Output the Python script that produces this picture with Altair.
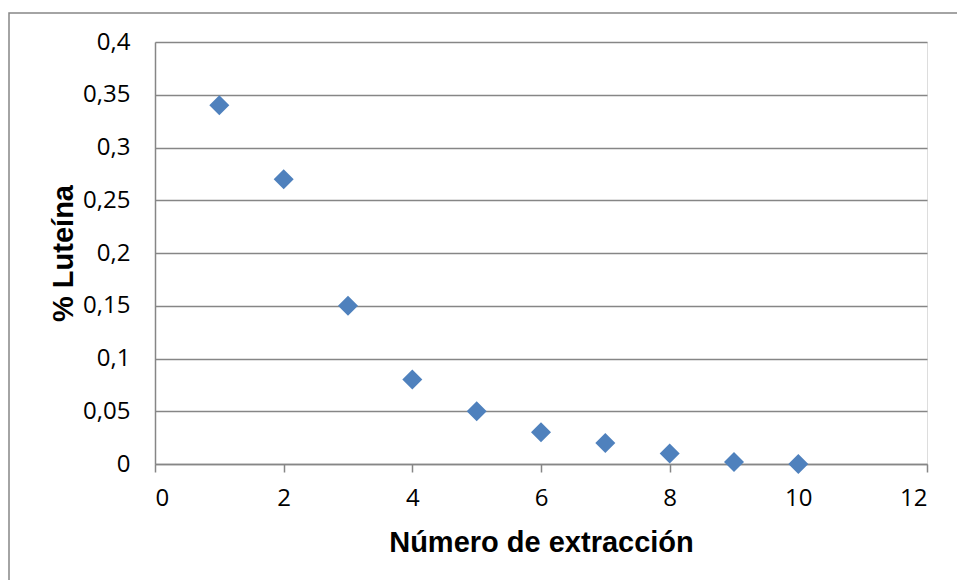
import altair as alt
import pandas as pd

extraccion = [1, 2, 3, 4, 5, 6, 7, 8, 9, 10]
luteina = [0.34, 0.27, 0.15, 0.08, 0.05, 0.03, 0.02, 0.01, 0.002, 0.0]
x_ticks = [0, 2, 4, 6, 8, 10, 12]
y_ticks = [0, 0.05, 0.1, 0.15, 0.2, 0.25, 0.3, 0.35, 0.4]

df = pd.DataFrame({"x": extraccion, "y": luteina})

GRAY = "#868686"
LABEL_FONT = "Open Sans"
TITLE_FONT = "Liberation Sans"

points = alt.Chart(df).mark_point(
    shape="diamond", filled=True, size=400, color="#4F81BD", opacity=1
).encode(
    x=alt.X(
        "x:Q",
        scale=alt.Scale(domain=[0, 12], nice=False, zero=True),
        axis=alt.Axis(
            values=x_ticks,
            title="Número de extracción",
            grid=False,
            domainColor=GRAY,
            domainWidth=1.5,
            tickColor=GRAY,
            tickWidth=1.5,
            tickSize=8,
            labelFont=LABEL_FONT,
            labelFontSize=24,
            labelColor="black",
            labelPadding=14,
            titleFont=TITLE_FONT,
            titleFontSize=29,
            titleFontWeight="bold",
            titleColor="black",
            titlePadding=18,
        ),
    ),
    y=alt.Y(
        "y:Q",
        scale=alt.Scale(domain=[0, 0.4], nice=False),
        axis=alt.Axis(
            values=y_ticks,
            format=".2~f",
            title="% Luteína",
            grid=True,
            gridColor=GRAY,
            gridWidth=1.5,
            domainColor=GRAY,
            domainWidth=1.5,
            ticks=False,
            labelExpr="replace(datum.label, '.', ',')",
            labelFont=LABEL_FONT,
            labelFontSize=24,
            labelColor="black",
            labelPadding=25,
            titleFont=TITLE_FONT,
            titleFontSize=29,
            titleFontWeight="bold",
            titleColor="black",
            titlePadding=4,
        ),
    ),
)

border = alt.Chart(pd.DataFrame({"a": [0]})).mark_rect(
    fill=None, stroke=GRAY, strokeWidth=1.5, clip=False
).encode(
    x=alt.value(-146),
    x2=alt.value(830),
    y=alt.value(-29),
    y2=alt.value(600),
)

chart = alt.layer(border, points).properties(
    width=772,
    height=422,
    autosize=alt.AutoSizeParams(type="none"),
    padding={"left": 155, "top": 42, "right": 30, "bottom": 116},
).configure_view(stroke=None).configure(background="white")

chart.save("out.html", embed_options={"renderer": "svg", "actions": False})
